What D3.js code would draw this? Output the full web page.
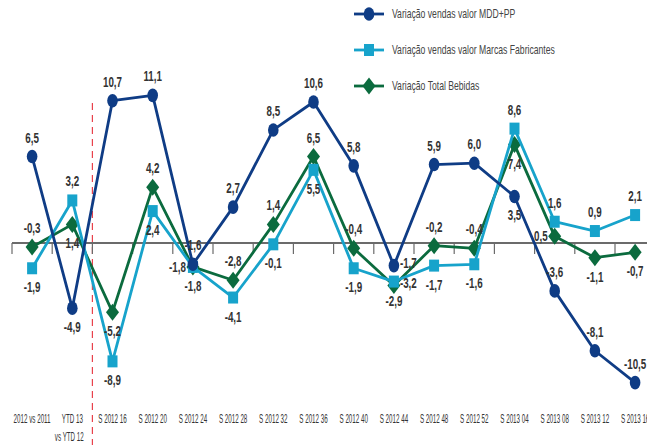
<!DOCTYPE html>
<html lang="pt">
<head>
    <meta charset="UTF-8">
    <title>Variação vendas</title>
    <script src="https://cdn.jsdelivr.net/npm/d3@7/dist/d3.min.js"></script>
    <style>
        body { margin: 0; background: #fff; }
        svg { display: block; }
        text { font-family: "Liberation Sans", Arial, sans-serif; }
        .lbl { font-size: 14px; font-weight: bold; fill: #333; }
        .cat { font-size: 13px; fill: #333; }
        .leg { font-size: 12px; fill: #444; }
    </style>
</head>
<body>
<div id="chart"></div>
<script>
    'use strict';

    // categories (second line of first labels split by \n)
    const categories = ['2012 vs 2011', 'YTD 13\nvs YTD 12', 'S 2012 16', 'S 2012 20', 'S 2012 24', 'S 2012 28',
        'S 2012 32', 'S 2012 36', 'S 2012 40', 'S 2012 44', 'S 2012 48', 'S 2012 52', 'S 2013 04',
        'S 2013 08', 'S 2013 12', 'S 2013 16'];

    const mddValues = [6.5, -4.9, 10.7, 11.1, -1.6, 2.7, 8.5, 10.6, 5.8, -1.7, 5.9, 6.0, 3.5, -3.6, -8.1, -10.5];
    const fabValues = [-1.9, 3.2, -8.9, 2.4, -1.8, -4.1, -0.1, 5.5, -1.9, -2.9, -1.7, -1.6, 8.6, 1.6, 0.9, 2.1];
    const totValues = [-0.3, 1.4, -5.2, 4.2, -1.8, -2.8, 1.4, 6.5, -0.4, -3.2, -0.2, -0.4, 7.4, 0.5, -1.1, -0.7];

    const seriesNames = ['Variação vendas valor MDD+PP', 'Variação vendas valor Marcas Fabricantes', 'Variação Total Bebidas'];

    // where each value label sits relative to its marker: a = above, b = below, l = left, r = right
    const mddPlace = ['a', 'b', 'a', 'a', 'a', 'a', 'a', 'a', 'a', 'r', 'a', 'a', 'b', 'a', 'a', 'a'];
    const fabPlace = ['b', 'a', 'b', 'b', 'b', 'b', 'b', 'b', 'b', 'b', 'b', 'b', 'a', 'a', 'a', 'a'];
    const totPlace = ['a', 'b', 'b', 'a', 'l', 'a', 'a', 'a', 'a', 'r', 'a', 'a', 'b', 'l', 'b', 'b'];

    const width = 647, height = 445;
    const zeroY = 243;

    const svg = d3.select('#chart').append('svg').attr('width', width).attr('height', height);

    const x = d3.scaleBand().domain(categories).range([12, 12 + 16 * 40.2]).padding(0);
    const y = d3.scaleLinear().domain([-12, 12]).range([zeroY + 12 * 13.3, zeroY - 12 * 13.3]);
    const cx = c => x(c) + x.bandwidth() / 2;

    // the original uses a very condensed face; squeeze text horizontally
    function addText(g, tx, ty, str, cls, anchor, sx) {
        return g.append('text').attr('class', cls).attr('text-anchor', anchor)
            .attr('transform', `translate(${tx},${ty}) scale(${sx},1)`).text(str);
    }

    // red dashed separator between the yearly comparisons and the weekly series
    svg.append('line')
        .attr('x1', x(categories[2])).attr('x2', x(categories[2]))
        .attr('y1', 103).attr('y2', height)
        .attr('stroke', '#e8424c').attr('stroke-width', 1.2).attr('stroke-dasharray', '7,5');

    // zero axis with ticks at band boundaries
    const axis = d3.axisBottom(x).tickSize(0).tickFormat('');
    const axisG = svg.append('g').attr('transform', `translate(0,${y(0)})`).call(axis);
    axisG.select('.domain').attr('stroke', '#6b6b6b').attr('stroke-width', 2).attr('d', `M${x.range()[0]},0H${width}`);
    axisG.selectAll('.bnd').data(categories).enter().append('line')
        .attr('x1', d => x(d)).attr('x2', d => x(d))
        .attr('y1', 0).attr('y2', 11)
        .attr('stroke', '#6b6b6b').attr('stroke-width', 1.2);

    // category labels at the bottom
    const catG = svg.append('g');
    categories.forEach(c => {
        c.split('\n').forEach((ln, i) => addText(catG, cx(c) - (i ? 3 : 0), 423 + i * 18, ln, 'cat', 'middle', 0.48));
    });

    const series = [
        { name: seriesNames[0], values: mddValues, place: mddPlace, color: '#0f3c85', shape: 'circle' },
        { name: seriesNames[1], values: fabValues, place: fabPlace, color: '#17a3cb', shape: 'square' },
        { name: seriesNames[2], values: totValues, place: totPlace, color: '#0b6b3e', shape: 'diamond' }
    ];

    function drawMarker(g, shape, color, px, py) {
        if (shape === 'circle') {
            g.append('ellipse').attr('cx', px).attr('cy', py).attr('rx', 5.3).attr('ry', 6.8).attr('fill', color);
        } else if (shape === 'square') {
            g.append('rect').attr('x', px - 5).attr('y', py - 6).attr('width', 10).attr('height', 12).attr('fill', color);
        } else {
            g.append('path').attr('d', `M${px},${py - 8.5}L${px + 6.5},${py}L${px},${py + 8.5}L${px - 6.5},${py}Z`).attr('fill', color);
        }
    }

    const line = d3.line().x((d, i) => cx(categories[i])).y(d => y(d));
    const fmt = v => v.toFixed(1).replace('.', ',');

    // draw lines in reverse order so the navy line sits on top like the original
    [2, 1, 0].forEach(k => {
        const s = series[k];
        const g = svg.append('g');
        g.append('path').datum(s.values).attr('d', line)
            .attr('fill', 'none').attr('stroke', s.color).attr('stroke-width', 2.8).attr('stroke-linejoin', 'round');
        s.values.forEach((v, i) => drawMarker(g, s.shape, s.color, cx(categories[i]), y(v)));
    });

    // value labels
    const lblG = svg.append('g');
    series.forEach(s => {
        s.values.forEach((v, i) => {
            const px = cx(categories[i]), py = y(v);
            const p = s.place[i];
            let tx = px, ty = py, anchor = 'middle';
            if (p === 'a') { ty = py - 14; }
            else if (p === 'b') { ty = py + 24; }
            else if (p === 'l') { tx = px - 7; ty = py + 5; anchor = 'end'; }
            else { tx = px + 6; ty = py + 2; anchor = 'start'; }
            addText(lblG, tx, ty, fmt(v), 'lbl', anchor, 0.7);
        });
    });

    // legend
    const legY = [14, 50, 86];
    series.forEach((s, k) => {
        const g = svg.append('g');
        g.append('line').attr('x1', 354).attr('x2', 384).attr('y1', legY[k]).attr('y2', legY[k])
            .attr('stroke', s.color).attr('stroke-width', 2.8);
        drawMarker(g, s.shape, s.color, 369, legY[k]);
        addText(g, 392, legY[k] + 4, s.name, 'leg', 'start', 0.72);
    });
</script>
</body>
</html>
